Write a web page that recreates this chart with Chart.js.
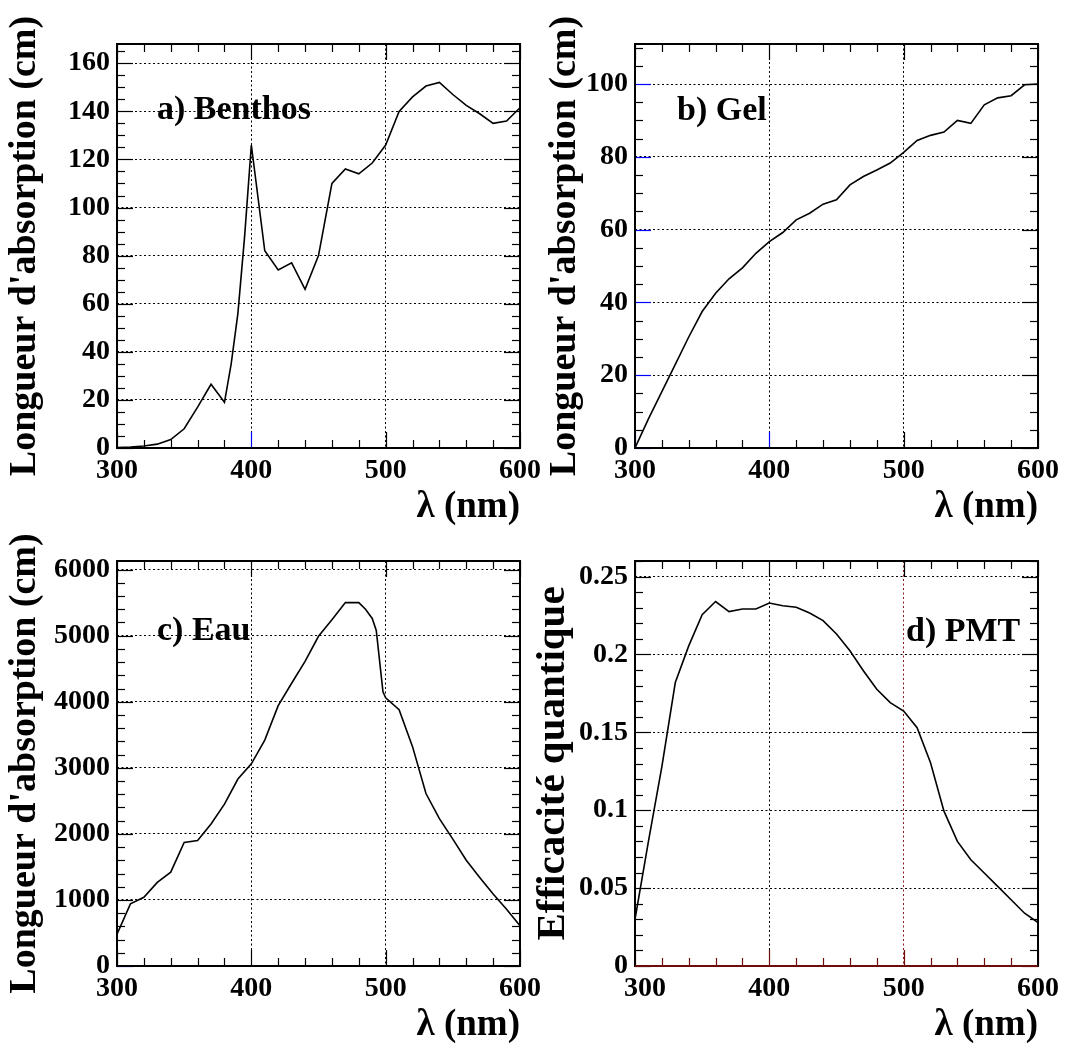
<!DOCTYPE html>
<html>
<head>
<meta charset="utf-8">
<script src="https://cdn.jsdelivr.net/npm/chart.js@4.4.1/dist/chart.umd.min.js"></script>
<style>
html,body{margin:0;padding:0;background:#fff;overflow:hidden;width:1065px;height:1047px;}
canvas{position:absolute;}
</style>
</head>
<body>
<canvas id="ca" width="548" height="530" style="left:0;top:0"></canvas>
<canvas id="cb" width="535" height="530" style="left:530px;top:0"></canvas>
<canvas id="cc" width="548" height="517" style="left:0;top:530px"></canvas>
<canvas id="cd" width="535" height="517" style="left:530px;top:530px"></canvas>
<script>
// ---- data ----
const benthosWavelength = [300,310,320,330,340,350,360,370,380,385,390,395,400,410,420,430,440,450,460,470,480,490,500,510,520,530,540,550,560,570,580,590,600];
const benthosAbsorption = [0.2,0.4,0.8,1.6,3.5,8,17,26.5,19,35,56,88,126,82,74,77,66,80,110,116,114,118.5,126,140,146,150.5,152,147,142.5,139,135,136,141.5];

const gelWavelength = [300,310,320,330,340,350,360,370,380,390,400,410,420,430,440,450,460,470,480,490,500,510,520,530,540,550,560,570,580,590,600];
const gelAbsorption = [0,8,15.5,23,30.5,37.5,42.5,46.5,49.5,53.5,56.7,59.2,62.7,64.5,67,68.2,72.3,74.6,76.4,78.3,81.2,84.5,85.9,86.8,90,89.2,94.3,96.2,96.8,99.8,100];

const eauWavelength = [300,310,320,330,340,350,360,370,380,390,400,410,420,430,440,450,460,470,480,485,490,493,498,500,510,520,530,540,550,560,570,580,590,600];
const eauAbsorption = [480,940,1040,1265,1420,1870,1900,2150,2450,2830,3060,3420,3940,4280,4610,4990,5240,5500,5500,5400,5260,5080,4150,4060,3880,3320,2610,2230,1920,1600,1340,1090,860,610];

const pmtWavelength = [300,310,320,330,340,350,360,370,380,390,400,410,420,430,440,450,460,470,480,490,500,510,520,530,540,550,560,570,580,590,600];
const pmtEfficiency = [0.03,0.08,0.128,0.182,0.2055,0.2255,0.234,0.2275,0.2292,0.2292,0.233,0.2313,0.2303,0.2266,0.2217,0.2131,0.2024,0.1895,0.1777,0.1691,0.1637,0.153,0.1305,0.0994,0.08,0.0682,0.0597,0.0511,0.0425,0.0339,0.0279];

// tick values / labels
const xTicks = [300, 400, 500, 600];
const benthosYTicks = [0, 20, 40, 60, 80, 100, 120, 140, 160];
const gelYTicks = [0, 20, 40, 60, 80, 100];
const eauYTicks = [0, 1000, 2000, 3000, 4000, 5000, 6000];
const pmtYTicks = [0, 0.05, 0.1, 0.15, 0.2, 0.25];

const panelLabels = ['a) Benthos', 'b) Gel', 'c) Eau', 'd) PMT'];
const yTitles = ["Longueur d'absorption (cm)", "Longueur d'absorption (cm)", "Longueur d'absorption (cm)", 'Efficacité quantique'];
const xTitle = 'λ (nm)';
const xRange = [300, 600];

// ---- drawing helpers ----
const FONT = '"Liberation Serif", "Times New Roman", Times, serif';
const TICKFONT = {family: FONT, size: 28, weight: 'bold', lineHeight: 1.2};
const XLABEL_PAD = 6;

const frameTicks = {
  id: 'frameTicks',
  afterDatasetsDraw(chart, args, o) {
    const {ctx, chartArea: {left, right, top, bottom}} = chart;
    const xs = chart.scales.x, ys = chart.scales.y;
    const line = (x1, y1, x2, y2, c) => {
      ctx.strokeStyle = c; ctx.beginPath(); ctx.moveTo(x1, y1); ctx.lineTo(x2, y2); ctx.stroke();
    };
    ctx.save();
    ctx.lineWidth = 1.2;
    const MAJ = 16, MIN = 8;
    const nx = Math.round((xs.max - xs.min) / o.xMinor);
    for (let i = 0; i <= nx; i++) {
      const v = xs.min + i * o.xMinor;
      const major = Math.abs(v / o.xMajor - Math.round(v / o.xMajor)) < 1e-6;
      const len = major ? MAJ : MIN;
      const px = Math.round(xs.getPixelForValue(v)) + 0.5;
      const cb = (major && o.bottomMajorColors && o.bottomMajorColors[String(Math.round(v))]) || o.bottomTickColor || '#000';
      line(px, bottom, px, bottom - len, cb);
      line(px, top, px, top + len, '#000');
    }
    const ny = Math.round(ys.max / o.yMinor);
    for (let i = 0; i <= ny; i++) {
      const v = i * o.yMinor;
      if (v > ys.max + 1e-9) break;
      const major = Math.abs(v / o.yMajor - Math.round(v / o.yMajor)) < 1e-6;
      const len = major ? MAJ : MIN;
      const py = Math.round(ys.getPixelForValue(v)) + 0.5;
      const cl = (major && o.leftMajorColors && o.leftMajorColors[String(Math.round(v / o.yMajor))]) || '#000';
      line(left, py, left + len, py, cl);
      line(right, py, right - len, py, (i === 0 && o.bottomTickColor) ? o.bottomTickColor : '#000');
    }
    ctx.lineWidth = 2;
    ctx.strokeStyle = '#000';
    ctx.strokeRect(left, top, right - left, bottom - top);
    if (o.bottomFrameColor) line(left, bottom, right, bottom, o.bottomFrameColor);
    ctx.restore();
  }
};

const panelLabel = {
  id: 'panelLabel',
  afterDatasetsDraw(chart, args, o) {
    const ctx = chart.ctx;
    ctx.save();
    ctx.font = 'bold 34px ' + FONT;
    ctx.fillStyle = '#000';
    ctx.textBaseline = 'alphabetic';
    ctx.textAlign = 'left';
    ctx.fillText(o.text, o.x, o.y);
    ctx.restore();
  }
};

function panel(id, xs, ys, o) {
  const pts = xs.map((x, i) => ({x: x, y: ys[i]}));
  const mainXTicks = o.shiftedFirstX ? xTicks.slice(1) : xTicks;
  const scales = {
    x: {
      type: 'linear', min: xRange[0], max: xRange[1], weight: 1,
      afterBuildTicks: s => { s.ticks = mainXTicks.map(v => ({value: v})); },
      ticks: {autoSkip: false, maxRotation: 0, padding: XLABEL_PAD, color: '#000', font: TICKFONT, callback: v => String(v)},
      grid: {drawTicks: false, lineWidth: 1, color: c => (o.xGridColors && c.tick && o.xGridColors[String(c.tick.value)]) || '#000'},
      border: {display: false, dash: [2, 2.5]},
      title: {display: true, text: xTitle, align: 'end', color: '#000',
              font: {family: FONT, size: 37, weight: 'bold', lineHeight: 1.1}, padding: {top: 0, bottom: o.xtPad}},
      afterFit: s => { s.height = o.xH; }
    },
    y: {
      type: 'linear', min: 0, max: o.ymax,
      afterBuildTicks: s => { s.ticks = o.yTicks.map(v => ({value: v})); },
      ticks: {autoSkip: false, padding: 7, color: '#000', font: TICKFONT, callback: v => String(+(+v).toFixed(2))},
      grid: {drawTicks: false, lineWidth: 1, color: '#000'},
      border: {display: false, dash: [2, 2.5]},
      title: {display: true, text: o.ytitle, align: 'center', color: '#000',
              font: {family: FONT, size: o.ytSize || 38, weight: 'bold', lineHeight: 1.1}, padding: {top: o.ytPad, bottom: 0}},
      afterFit: s => { s.width = o.yW; }
    }
  };
  if (o.shiftedFirstX) {
    // the first wavelength label of this panel sits a little right of its tick, as in the reference;
    // a zero-height helper axis (mirrored so its label is not clipped) carries only that label
    const lh = TICKFONT.size * TICKFONT.lineHeight;
    scales.x0 = {
      type: 'linear', position: 'bottom', min: xRange[0], max: xRange[1], weight: 0,
      afterBuildTicks: s => { s.ticks = [{value: xTicks[0]}]; },
      ticks: {autoSkip: false, maxRotation: 0, mirror: true, padding: -(XLABEL_PAD + lh), color: '#000', font: TICKFONT,
              labelOffset: o.shiftedFirstX, callback: v => String(v)},
      grid: {display: false, drawTicks: false},
      border: {display: false},
      title: {display: false},
      afterFit: s => { s.height = 0; }
    };
  }
  return new Chart(document.getElementById(id), {
    type: 'line',
    data: {datasets: [{data: pts, borderColor: '#000', borderWidth: 1.6, pointRadius: 0, tension: 0, fill: false, xAxisID: 'x', yAxisID: 'y'}]},
    options: {
      responsive: false, animation: false, events: [],
      layout: {padding: {left: 0, top: o.top, right: o.right, bottom: 0}},
      plugins: {
        legend: {display: false}, tooltip: {enabled: false},
        frameTicks: o.ticks,
        panelLabel: o.label
      },
      scales: scales
    },
    plugins: [frameTicks, panelLabel]
  });
}

const BLUE = '#0000ff';
const DARKRED = '#6e0b0b';

panel('ca', benthosWavelength, benthosAbsorption, {
  top: 44, right: 28, xH: 82, yW: 117, ymax: 168, yTicks: benthosYTicks,
  ytitle: yTitles[0], ytPad: 4, xtPad: 2,
  ticks: {xMinor: 20, xMajor: 100, yMinor: 5, yMajor: 20, bottomMajorColors: {'400': BLUE}},
  label: {text: panelLabels[0], x: 157, y: 119}
});

panel('cb', gelWavelength, gelAbsorption, {
  top: 44, right: 27, xH: 82, yW: 105, ymax: 111, yTicks: gelYTicks,
  ytitle: yTitles[1], ytPad: 14, xtPad: 2,
  ticks: {xMinor: 20, xMajor: 100, yMinor: 5, yMajor: 20,
          bottomMajorColors: {'300': BLUE, '400': BLUE},
          leftMajorColors: {'0': BLUE, '1': BLUE, '2': BLUE, '3': BLUE, '4': BLUE, '5': BLUE}},
  label: {text: panelLabels[1], x: 147, y: 120}
});

panel('cc', eauWavelength, eauAbsorption, {
  top: 31, right: 28, xH: 81, yW: 117, ymax: 6130, yTicks: eauYTicks,
  ytitle: yTitles[2], ytPad: 4, xtPad: 1,
  ticks: {xMinor: 20, xMajor: 100, yMinor: 200, yMajor: 1000, leftMajorColors: {'0': BLUE}},
  label: {text: panelLabels[2], x: 157, y: 110}
});

panel('cd', pmtWavelength, pmtEfficiency, {
  top: 31, right: 27, xH: 81, yW: 105, ymax: 0.26, yTicks: pmtYTicks,
  shiftedFirstX: 10,
  xGridColors: {'500': '#8b1a1a'},
  ytitle: yTitles[3], ytSize: 41, ytPad: 1, xtPad: 1,
  ticks: {xMinor: 20, xMajor: 100, yMinor: 0.01, yMajor: 0.05, bottomTickColor: DARKRED, bottomFrameColor: DARKRED},
  label: {text: panelLabels[3], x: 376, y: 111}
});
</script>
</body>
</html>
